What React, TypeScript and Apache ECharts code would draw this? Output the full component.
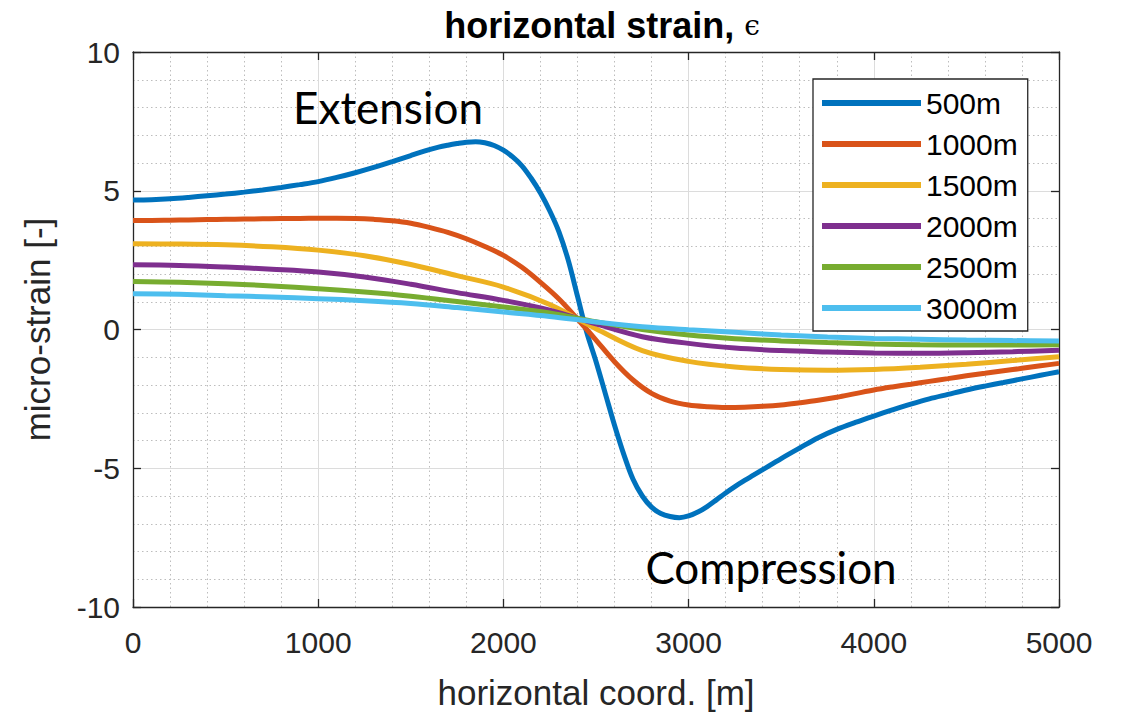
import React, { useEffect, useRef } from "react";
import * as echarts from "echarts";

const SERIES_NAMES = ["500m", "1000m", "1500m", "2000m", "2500m", "3000m"];
const COLORS = ["#0072BD", "#D95319", "#EDB120", "#7E2F8E", "#77AC30", "#4DBEEE"];

const X_TICKS = [0, 1000, 2000, 3000, 4000, 5000];
const Y_TICKS = [-10, -5, 0, 5, 10];

// sample positions (m)
const X_500 = [
  0, 100, 200, 300, 400, 500, 600, 700, 800, 900, 1000, 1100, 1200, 1300, 1400, 1500, 1600,
  1650, 1700, 1750, 1800, 1850, 1900, 1950, 2000, 2050, 2100, 2150, 2200, 2250, 2300, 2350, 2400, 2450, 2500,
  2550, 2600, 2650, 2700, 2750, 2800, 2850, 2900, 2950, 3000, 3050, 3100, 3150, 3200, 3250, 3300, 3350,
  3400, 3500, 3600, 3700, 3800, 3900, 4000, 4100, 4200, 4300, 4400, 4500, 4600, 4700, 4800, 4900, 5000,
];
const X_FINE = [
  0, 100, 200, 300, 400, 500, 600, 700, 800, 900, 1000, 1100, 1200, 1300, 1400, 1500, 1600, 1700, 1800, 1900,
  2000, 2100, 2200, 2300, 2400, 2500, 2600, 2700, 2800, 2900, 3000, 3100, 3200, 3300, 3400, 3500, 3600, 3700,
  3800, 3900, 4000, 4100, 4200, 4300, 4400, 4500, 4600, 4700, 4800, 4900, 5000,
];
const X_COARSE = [
  0, 250, 500, 750, 1000, 1250, 1500, 1750, 2000, 2250, 2500, 2750, 3000, 3250, 3500, 3750, 4000, 4250, 4500, 4750, 5000,
];

const Y_500 = [
  4.67, 4.68, 4.71, 4.76, 4.82, 4.88, 4.95, 5.03, 5.12, 5.22, 5.33, 5.48, 5.65, 5.84, 6.05, 6.27, 6.48,
  6.57, 6.64, 6.7, 6.75, 6.77, 6.73, 6.63, 6.46, 6.22, 5.9, 5.45, 4.92, 4.28, 3.52, 2.5, 1.2, -0.1, -1.15,
  -2.3, -3.45, -4.5, -5.4, -6.0, -6.4, -6.63, -6.74, -6.78, -6.72, -6.58, -6.38, -6.14, -5.89, -5.66, -5.45, -5.25,
  -5.05, -4.65, -4.27, -3.9, -3.6, -3.35, -3.12, -2.9, -2.69, -2.5, -2.34, -2.18, -2.04, -1.91, -1.78, -1.65, -1.52,
];
const Y_1000 = [
  3.93, 3.93, 3.94, 3.95, 3.96, 3.97, 3.98, 3.99, 4.0, 4.0, 4.01, 4.01, 4.0, 3.97, 3.92, 3.83, 3.68, 3.5, 3.27, 2.99,
  2.67, 2.24, 1.7, 1.1, 0.38, -0.38, -1.16, -1.82, -2.3, -2.58, -2.72, -2.78, -2.81, -2.8, -2.77, -2.72, -2.64, -2.55,
  -2.44, -2.31, -2.18, -2.07, -1.97, -1.87, -1.77, -1.67, -1.58, -1.49, -1.4, -1.31, -1.22,
];
const Y_1500 = [
  3.09, 3.08, 3.05, 2.98, 2.86, 2.66, 2.34, 1.94, 1.53, 0.9, 0.03, -0.76, -1.15, -1.35, -1.44, -1.47, -1.44, -1.36, -1.25, -1.12, -0.98,
];
const Y_2000 = [
  2.33, 2.31, 2.25, 2.17, 2.07, 1.89, 1.63, 1.33, 1.05, 0.7, 0.2, -0.26, -0.5, -0.67, -0.76, -0.81, -0.85, -0.86, -0.84, -0.8, -0.75,
];
const Y_2500 = [
  1.73, 1.7, 1.65, 1.57, 1.47, 1.35, 1.2, 1.01, 0.81, 0.6, 0.28, 0.0, -0.2, -0.33, -0.41, -0.47, -0.52, -0.55, -0.56, -0.56, -0.55,
];
const Y_3000 = [
  1.29, 1.27, 1.22, 1.17, 1.11, 1.04, 0.94, 0.79, 0.63, 0.47, 0.27, 0.1, -0.01, -0.1, -0.2, -0.27, -0.32, -0.35, -0.38, -0.4, -0.41,
];

const SERIES_X = [X_500, X_FINE, X_COARSE, X_COARSE, X_COARSE, X_COARSE];
const SERIES_Y = [Y_500, Y_1000, Y_1500, Y_2000, Y_2500, Y_3000];

const ANNOTATIONS = ["Extension", "Compression"];

const AXIS_COLOR = "#262626";
const FONT = "'Liberation Sans', Arial, Helvetica, sans-serif";

export default function App() {
  const ref = useRef<HTMLDivElement>(null);

  useEffect(() => {
    if (!ref.current) return;
    const chart = echarts.init(ref.current, null, { renderer: "svg" });

    const series = SERIES_NAMES.map((name, i) => ({
      name,
      type: "line",
      xAxisIndex: 0,
      yAxisIndex: 0,
      data: SERIES_X[i].map((x, j) => [x, SERIES_Y[i][j]]),
      showSymbol: false,
      symbol: "none",
      smooth: 0.35,
      lineStyle: { color: COLORS[i], width: 5 },
      itemStyle: { color: COLORS[i] },
      z: 2 + i,
    }));

    const baseX = {
      type: "value",
      min: X_TICKS[0],
      max: X_TICKS[X_TICKS.length - 1],
      interval: 1000,
    };
    const baseY = {
      type: "value",
      min: Y_TICKS[0],
      max: Y_TICKS[Y_TICKS.length - 1],
      interval: 5,
    };
    const axisLine = { show: true, onZero: false, lineStyle: { color: AXIS_COLOR, width: 1.3 } };
    const axisTick = { show: true, inside: true, length: 8, lineStyle: { color: AXIS_COLOR, width: 1.3 } };

    const option = {
      animation: false,
      backgroundColor: "#ffffff",
      title: {
        text: "{a|horizontal strain, }{b|ϵ}",
        left: 597,
        top: 2,
        textAlign: "center",
        textStyle: {
          rich: {
            a: { fontSize: 36, fontWeight: "bold", fontFamily: FONT, color: "#000000" },
            b: { fontSize: 28, fontWeight: "normal", fontFamily: "'DejaVu Serif', serif", color: "#000000" },
          },
        },
      },
      grid: {
        left: 133,
        right: 63,
        top: 52,
        bottom: 107,
        containLabel: false,
        outerBoundsMode: "none",
      },
      legend: {
        orient: "vertical",
        left: 813,
        top: 79,
        data: SERIES_NAMES,
        icon: "rect",
        itemWidth: 99,
        itemHeight: 6,
        itemGap: 11,
        padding: [9, 10, 8, 9],
        backgroundColor: "#ffffff",
        borderColor: AXIS_COLOR,
        borderWidth: 1.3,
        borderRadius: 0,
        textStyle: { fontSize: 30, fontFamily: FONT, color: "#000000", lineHeight: 30 },
      },
      xAxis: [
        {
          ...baseX,
          position: "bottom",
          name: "horizontal coord. [m]",
          nameLocation: "middle",
          nameGap: 68,
          nameTextStyle: { fontSize: 35, fontFamily: FONT, color: AXIS_COLOR },
          axisLine,
          axisTick,
          axisLabel: {
            fontSize: 30,
            fontFamily: FONT,
            color: AXIS_COLOR,
            margin: 20,
            formatter: (v: number) => String(v),
          },
          splitLine: { show: true, lineStyle: { color: "#dcdcdc", width: 1 } },
          minorTick: { show: false, splitNumber: 5 },
          minorSplitLine: { show: true, lineStyle: { color: "#bdbdbd", width: 1, type: [1.5, 3] } },
        },
        {
          ...baseX,
          position: "top",
          axisLine,
          axisTick,
          axisLabel: { show: false },
          splitLine: { show: false },
        },
      ],
      yAxis: [
        {
          ...baseY,
          position: "left",
          name: "micro-strain [-]",
          nameLocation: "middle",
          nameGap: 78,
          nameTextStyle: { fontSize: 35, fontFamily: FONT, color: AXIS_COLOR },
          axisLine,
          axisTick,
          axisLabel: {
            fontSize: 30,
            fontFamily: FONT,
            color: AXIS_COLOR,
            margin: 13,
            formatter: (v: number) => String(v),
          },
          splitLine: { show: true, lineStyle: { color: "#dcdcdc", width: 1 } },
          minorTick: { show: false, splitNumber: 5 },
          minorSplitLine: { show: true, lineStyle: { color: "#bdbdbd", width: 1, type: [1.5, 3] } },
        },
        {
          ...baseY,
          position: "right",
          axisLine,
          axisTick,
          axisLabel: { show: false },
          splitLine: { show: false },
        },
      ],
      graphic: [
        {
          type: "text",
          x: 388,
          y: 107,
          z: 100,
          style: {
            text: ANNOTATIONS[0],
            fontSize: 44,
            fontFamily: "Lato, 'Open Sans', sans-serif",
            fill: "#000000",
            textAlign: "center",
            textVerticalAlign: "middle",
          },
        },
        {
          type: "text",
          x: 771,
          y: 567,
          z: 100,
          style: {
            text: ANNOTATIONS[1],
            fontSize: 44,
            fontFamily: "Lato, 'Open Sans', sans-serif",
            fill: "#000000",
            textAlign: "center",
            textVerticalAlign: "middle",
          },
        },
      ],
      series,
    };

    chart.setOption(option as any);
    return () => chart.dispose();
  }, []);

  return (
    <div
      ref={ref}
      style={{ position: "fixed", left: 0, top: 0, width: 1122, height: 714, background: "#fff" }}
    />
  );
}
